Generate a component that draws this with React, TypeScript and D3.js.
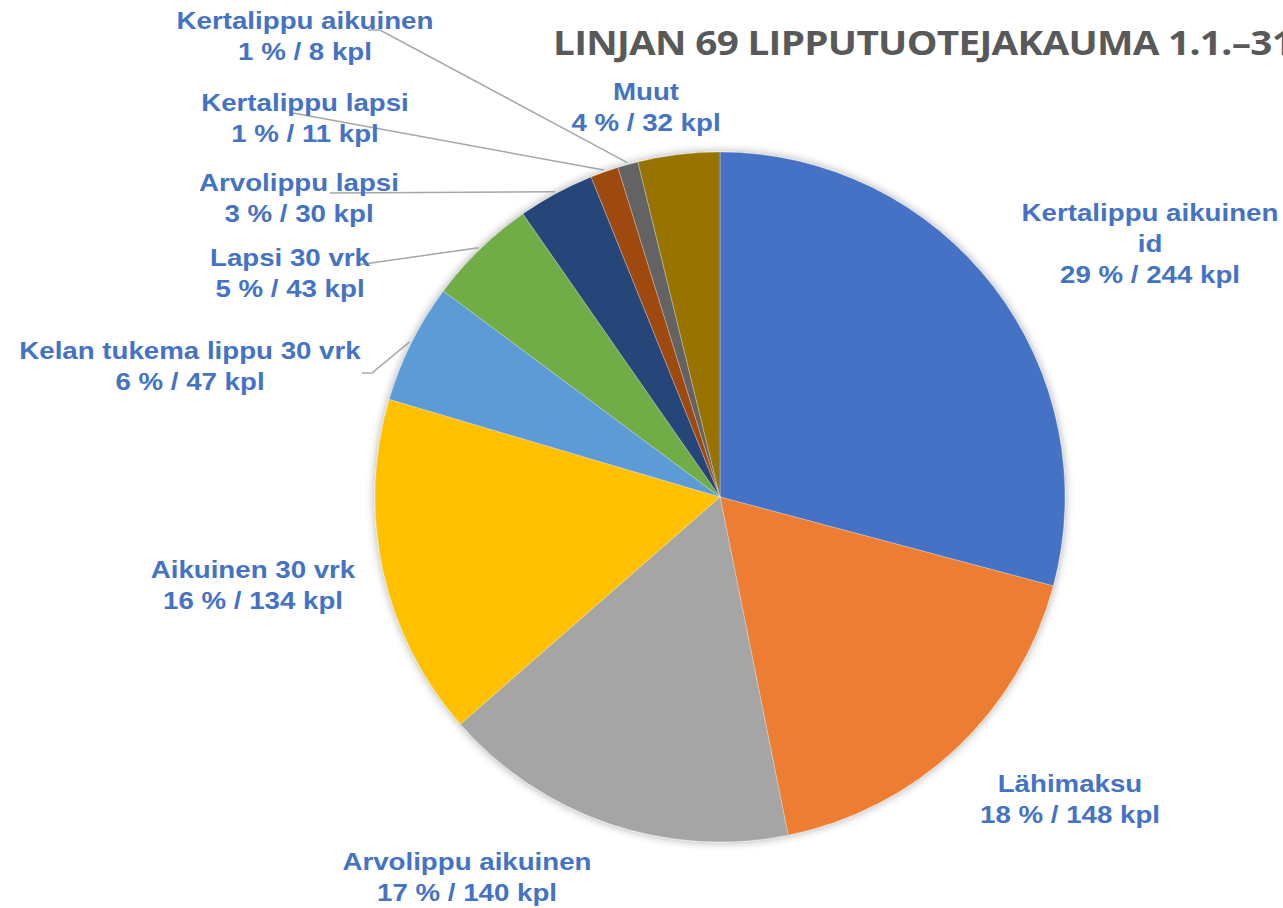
import React from "react";
import * as d3 from "d3";

const categories = [
  "Kertalippu aikuinen id",
  "Lähimaksu",
  "Arvolippu aikuinen",
  "Aikuinen 30 vrk",
  "Kelan tukema lippu 30 vrk",
  "Lapsi 30 vrk",
  "Arvolippu lapsi",
  "Kertalippu lapsi",
  "Kertalippu aikuinen",
  "Muut",
];
const values = [244, 148, 140, 134, 47, 43, 30, 11, 8, 32];
const percents = ["29 %", "18 %", "17 %", "16 %", "6 %", "5 %", "3 %", "1 %", "1 %", "4 %"];
const colors = [
  "#4472C4", "#ED7D31", "#A5A5A5", "#FFC000", "#5B9BD5",
  "#70AD47", "#264478", "#9E480E", "#636363", "#997300",
];
const title = "LINJAN 69 LIPPUTUOTEJAKAUMA 1.1.–31.12.";

// label layout: label line breaks, centre x, first-line y
const labelLines: string[][] = [
  ["Kertalippu aikuinen", "id"],
  ["Lähimaksu"],
  ["Arvolippu aikuinen"],
  ["Aikuinen 30 vrk"],
  ["Kelan tukema lippu 30 vrk"],
  ["Lapsi 30 vrk"],
  ["Arvolippu lapsi"],
  ["Kertalippu lapsi"],
  ["Kertalippu aikuinen"],
  ["Muut"],
];
const labelPos: [number, number][] = [
  [1150, 212], [1070, 783], [467, 861], [253, 569], [190, 350],
  [290, 257], [299, 182], [305, 102], [305, 20], [646, 91],
];
const leaders: ({ pts: [number, number][] } | null)[] = [
  null, null, null, null,
  { pts: [[362, 373], [372, 373]] },
  { pts: [[357, 265]] },
  { pts: [[330, 193]] },
  { pts: [[293, 113]] },
  { pts: [[368, 30], [380, 30]] },
  null,
];

const W = 1283, H = 908;
const cx = 720, cy = 497, R = 345;

export default function App() {
  const pie = d3.pie<number>().sort(null).value((d) => d);
  const arcs = pie(values);
  const arc = d3.arc<d3.PieArcDatum<number>>().innerRadius(0).outerRadius(R);
  const lineH = 31;
  const sx = 1.13;

  return (
    <svg width={W} height={H} style={{ position: "absolute", left: 0, top: 0 }}>
      <defs>
        <filter id="sh" x="-20%" y="-20%" width="140%" height="140%">
          <feGaussianBlur in="SourceAlpha" stdDeviation="5" />
          <feOffset dx="0" dy="0" result="b" />
          <feComponentTransfer><feFuncA type="linear" slope="0.35" /></feComponentTransfer>
          <feMerge><feMergeNode /><feMergeNode in="SourceGraphic" /></feMerge>
        </filter>
      </defs>
      <rect width={W} height={H} fill="#fff" />
      <text x={553} y={55} fontFamily="'Open Sans', sans-serif" fontWeight="bold" fontSize={33.5}
        fill="#595959" letterSpacing={-0.6}
        transform={`translate(553,0) scale(1.155,1) translate(-553,0)`}>{title}</text>
      <g transform={`translate(${cx},${cy})`} filter="url(#sh)">
        {arcs.map((a, i) => (
          <path key={i} d={arc(a) || ""} fill={colors[i]} stroke="#ffffff" strokeOpacity={0.35} strokeWidth={0.8} />
        ))}
      </g>
      {arcs.map((a, i) => {
        const ld = leaders[i];
        if (!ld) return null;
        const mid = (a.startAngle + a.endAngle) / 2;
        const ex = cx + (R + 2) * Math.sin(mid);
        const ey = cy - (R + 2) * Math.cos(mid);
        const pts = [...ld.pts, [ex, ey]];
        return (
          <polyline key={"l" + i} points={pts.map((p) => p.join(",")).join(" ")}
            fill="none" stroke="#A6A6A6" strokeWidth={1.5} />
        );
      })}
      {categories.map((c, i) => {
        const [x, y] = labelPos[i];
        const lines = [...labelLines[i], `${percents[i]} / ${values[i]} kpl`];
        return (
          <text key={"t" + i} x={x} y={y} textAnchor="middle" fontFamily="'Liberation Sans', Arial, sans-serif"
            fontWeight="bold" fontSize={24.5} fill="#4472C4"
            transform={`translate(${x},0) scale(${sx},1) translate(${-x},0)`}>
            {lines.map((ln, j) => (
              <tspan key={j} x={x} y={y + j * lineH} dy="0.35em">{ln}</tspan>
            ))}
          </text>
        );
      })}
    </svg>
  );
}
